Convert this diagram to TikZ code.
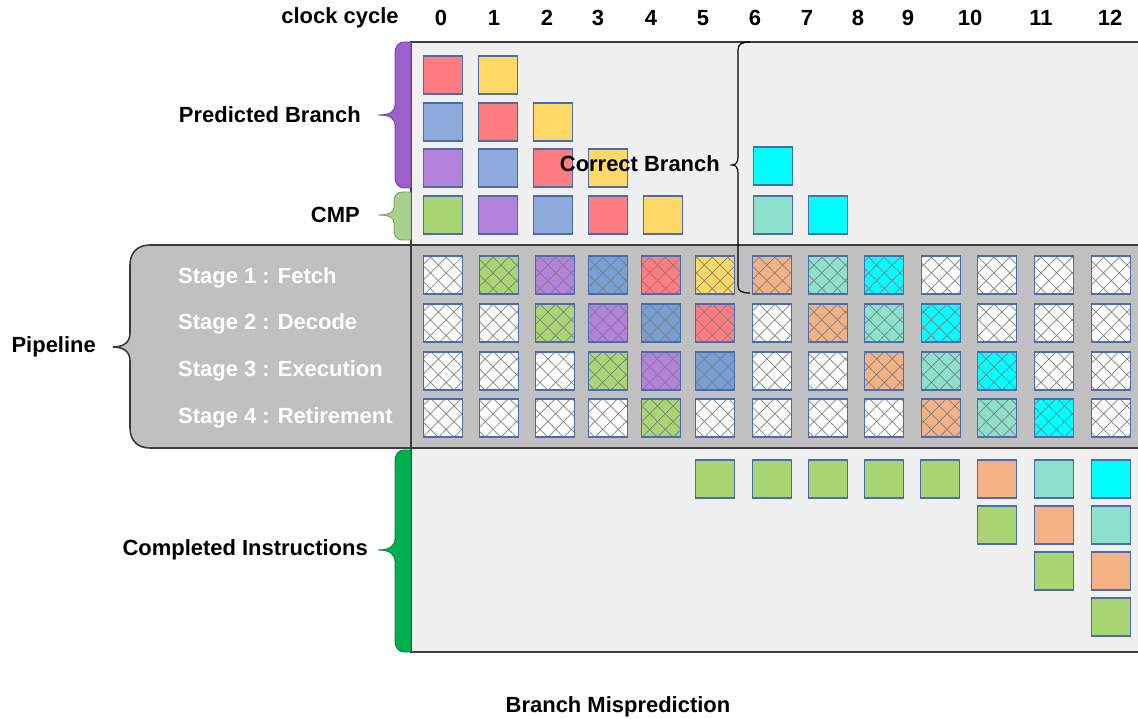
\documentclass[tikz,border=0pt]{standalone}
\usepackage{fontspec}
\setmainfont{Liberation Sans}
\usetikzlibrary{patterns.meta}

\definecolor{cred}{HTML}{FF7C80}
\definecolor{cyellow}{HTML}{FFD966}
\definecolor{cblue}{HTML}{8FAADC}
\definecolor{hblue}{HTML}{769FD6}
\definecolor{cpurple}{HTML}{B482DA}
\definecolor{cgreen}{HTML}{A9D673}
\definecolor{corange}{HTML}{F4B183}
\definecolor{cteal}{HTML}{8CE0CC}
\definecolor{ccyan}{HTML}{00FFFF}
\definecolor{cellblue}{HTML}{4A6CB0}
\definecolor{hatchgray}{HTML}{808080}
\definecolor{panelgray}{HTML}{F0F0F0}
\definecolor{pipegray}{HTML}{C0C0C0}
\definecolor{edgegray}{HTML}{3C3C3C}
\definecolor{bpurple}{HTML}{9E5ECE}
\definecolor{blgreen}{HTML}{A9D18E}
\definecolor{bdgreen}{HTML}{00B050}

\begin{document}
\begin{tikzpicture}[
    x=0.02cm,
    y=-0.02cm,
    font=\fontsize{12.5}{15}\selectfont\bfseries,
    sq/.style={draw=cellblue, line width=0.8pt, fill=#1, minimum width=0.78cm, minimum height=0.76cm, inner sep=0pt},
    hsq/.style={draw=cellblue, line width=0.8pt, minimum width=0.78cm, minimum height=0.76cm, inner sep=0pt,
        preaction={fill=#1},
        preaction={pattern={Lines[angle=45, distance=6.3pt, line width=0.4pt]}, pattern color=hatchgray},
        preaction={pattern={Lines[angle=-45, distance=6.3pt, line width=0.4pt]}, pattern color=hatchgray}},
    hsq/.default=white,
    lbl/.style={anchor=east},
    stage/.style={anchor=west, text=white},
    brace/.style={draw=#1!75!black, line width=0.5pt, fill=#1},
]
    \useasboundingbox (0,0) rectangle (1138,719);
    \clip (0,0) rectangle (1138,719);

    % panels
    \draw[fill=panelgray, draw=edgegray, line width=0.9pt] (411,42) rectangle (1150,652);
    \draw[fill=pipegray, draw=edgegray, line width=0.9pt] (1150,245) -- (150,245)
        .. controls (138,245) and (130,252) .. (130,265) -- (130,333)
        .. controls (130,342) and (124,347) .. (113,347)
        .. controls (124,347) and (130,352) .. (130,361) -- (130,428)
        .. controls (130,441) and (138,448) .. (150,448) -- (1150,448);
    \draw[draw=edgegray, line width=0.9pt] (411,42) -- (411,652);

    % braces
    \draw[brace=bpurple] (411,42) -- (405,42) .. controls (398,42) and (395,46) .. (395,54) -- (395,104)
        .. controls (395,112) and (390,115) .. (378,115) .. controls (390,115) and (395,118) .. (395,126)
        -- (395,176) .. controls (395,184) and (398,188) .. (405,188) -- (411,188) -- cycle;
    \draw[brace=blgreen] (411,192) -- (403,192) .. controls (396,192) and (394,196) .. (394,202) -- (394,207)
        .. controls (394,212) and (390,215) .. (378,215) .. controls (390,215) and (394,218) .. (394,223)
        -- (394,229) .. controls (394,236) and (396,240) .. (403,240) -- (411,240) -- cycle;
    \draw[brace=bdgreen] (411,450) -- (405,450) .. controls (398,450) and (395,454) .. (395,462) -- (395,538)
        .. controls (395,546) and (390,550) .. (378,550) .. controls (390,550) and (395,554) .. (395,562)
        -- (395,640) .. controls (395,648) and (398,652) .. (405,652) -- (411,652) -- cycle;
    \draw[line width=0.7pt] (750,42) .. controls (742,42) and (738,44) .. (738,50) -- (738,157)
        .. controls (738,162) and (736,165) .. (732,165) .. controls (736,165) and (738,168) .. (738,173)
        -- (738,286) .. controls (738,291) and (742,293) .. (750,293);

    % header
    \node (clk) at (340,18) {clock cycle};
    \node (n0) at (441,18) {0};
    \node (n1) at (494,18) {1};
    \node (n2) at (547,18) {2};
    \node (n3) at (598,18) {3};
    \node (n4) at (651,18) {4};
    \node (n5) at (703,18) {5};
    \node (n6) at (755,18) {6};
    \node (n7) at (807,18) {7};
    \node (n8) at (858,18) {8};
    \node (n9) at (908,18) {9};
    \node (n10) at (970,18) {10};
    \node (n11) at (1041,18) {11};
    \node (n12) at (1110,18) {12};

    % predicted branch
    \node[sq=cred] (pa0) at (443,75) {};
    \node[sq=cyellow] (pa1) at (498,75) {};
    \node[sq=cblue] (pb0) at (443,122) {};
    \node[sq=cred] (pb1) at (498,122) {};
    \node[sq=cyellow] (pb2) at (553,122) {};
    \node[sq=cpurple] (pc0) at (443,168) {};
    \node[sq=cblue] (pc1) at (498,168) {};
    \node[sq=cred] (pc2) at (553,168) {};
    \node[sq=cyellow] (pc3) at (608,168) {};
    \node[sq=ccyan] (cb6) at (773,166) {};

    % cmp
    \node[sq=cgreen] (cm0) at (443,215) {};
    \node[sq=cpurple] (cm1) at (498,215) {};
    \node[sq=cblue] (cm2) at (553,215) {};
    \node[sq=cred] (cm3) at (608,215) {};
    \node[sq=cyellow] (cm4) at (663,215) {};
    \node[sq=cteal] (cm6) at (773,215) {};
    \node[sq=ccyan] (cm7) at (828,215) {};

    % stage 1
    \node[hsq] (f0) at (443,275) {};
    \node[hsq=cgreen] (f1) at (499,275) {};
    \node[hsq=cpurple] (f2) at (555,275) {};
    \node[hsq=hblue] (f3) at (608,275) {};
    \node[hsq=cred] (f4) at (661,275) {};
    \node[hsq=cyellow] (f5) at (715,275) {};
    \node[hsq=corange] (f6) at (772,275) {};
    \node[hsq=cteal] (f7) at (828,275) {};
    \node[hsq=ccyan] (f8) at (884,275) {};
    \node[hsq] (f9) at (941,275) {};
    \node[hsq] (f10) at (997,275) {};
    \node[hsq] (f11) at (1054,275) {};
    \node[hsq] (f12) at (1111,275) {};

    % stage 2
    \node[hsq] (d0) at (443,323) {};
    \node[hsq] (d1) at (499,323) {};
    \node[hsq=cgreen] (d2) at (555,323) {};
    \node[hsq=cpurple] (d3) at (608,323) {};
    \node[hsq=hblue] (d4) at (661,323) {};
    \node[hsq=cred] (d5) at (715,323) {};
    \node[hsq] (d6) at (772,323) {};
    \node[hsq=corange] (d7) at (828,323) {};
    \node[hsq=cteal] (d8) at (884,323) {};
    \node[hsq=ccyan] (d9) at (941,323) {};
    \node[hsq] (d10) at (997,323) {};
    \node[hsq] (d11) at (1054,323) {};
    \node[hsq] (d12) at (1111,323) {};

    % stage 3
    \node[hsq] (e0) at (443,371) {};
    \node[hsq] (e1) at (499,371) {};
    \node[hsq] (e2) at (555,371) {};
    \node[hsq=cgreen] (e3) at (608,371) {};
    \node[hsq=cpurple] (e4) at (661,371) {};
    \node[hsq=hblue] (e5) at (715,371) {};
    \node[hsq] (e6) at (772,371) {};
    \node[hsq] (e7) at (828,371) {};
    \node[hsq=corange] (e8) at (884,371) {};
    \node[hsq=cteal] (e9) at (941,371) {};
    \node[hsq=ccyan] (e10) at (997,371) {};
    \node[hsq] (e11) at (1054,371) {};
    \node[hsq] (e12) at (1111,371) {};

    % stage 4
    \node[hsq] (r0) at (443,418) {};
    \node[hsq] (r1) at (499,418) {};
    \node[hsq] (r2) at (555,418) {};
    \node[hsq] (r3) at (608,418) {};
    \node[hsq=cgreen] (r4) at (661,418) {};
    \node[hsq] (r5) at (715,418) {};
    \node[hsq] (r6) at (772,418) {};
    \node[hsq] (r7) at (828,418) {};
    \node[hsq] (r8) at (884,418) {};
    \node[hsq=corange] (r9) at (941,418) {};
    \node[hsq=cteal] (r10) at (997,418) {};
    \node[hsq=ccyan] (r11) at (1054,418) {};
    \node[hsq] (r12) at (1111,418) {};

    % completed instructions
    \node[sq=cgreen] (ca5) at (715,479) {};
    \node[sq=cgreen] (ca6) at (772,479) {};
    \node[sq=cgreen] (ca7) at (828,479) {};
    \node[sq=cgreen] (ca8) at (884,479) {};
    \node[sq=cgreen] (ca9) at (940,479) {};
    \node[sq=corange] (ca10) at (997,479) {};
    \node[sq=cteal] (ca11) at (1054,479) {};
    \node[sq=ccyan] (ca12) at (1111,479) {};
    \node[sq=cgreen] (cb10) at (997,525) {};
    \node[sq=corange] (cb11) at (1054,525) {};
    \node[sq=cteal] (cb12) at (1111,525) {};
    \node[sq=cgreen] (cc11) at (1054,571) {};
    \node[sq=corange] (cc12) at (1111,571) {};
    \node[sq=cgreen] (cd12) at (1111,617) {};

    % labels
    \node[lbl] (predicted) at (367,115) {Predicted Branch};
    \node[lbl] (cmp) at (366,215) {CMP};
    \node[lbl] (pipeline) at (102,347) {Pipeline};
    \node[lbl] (completed) at (374,550) {Completed Instructions};
    \node[lbl] (correct) at (726,164) {Correct Branch};
    \node[stage] (s1) at (172,278) {Stage 1 : Fetch};
    \node[stage] (s2) at (172,324) {Stage 2 : Decode};
    \node[stage] (s3) at (172,371) {Stage 3 : Execution};
    \node[stage] (s4) at (172,418) {Stage 4 : Retirement};
    \node (title) at (618,707) {Branch Misprediction};
\end{tikzpicture}
\end{document}
